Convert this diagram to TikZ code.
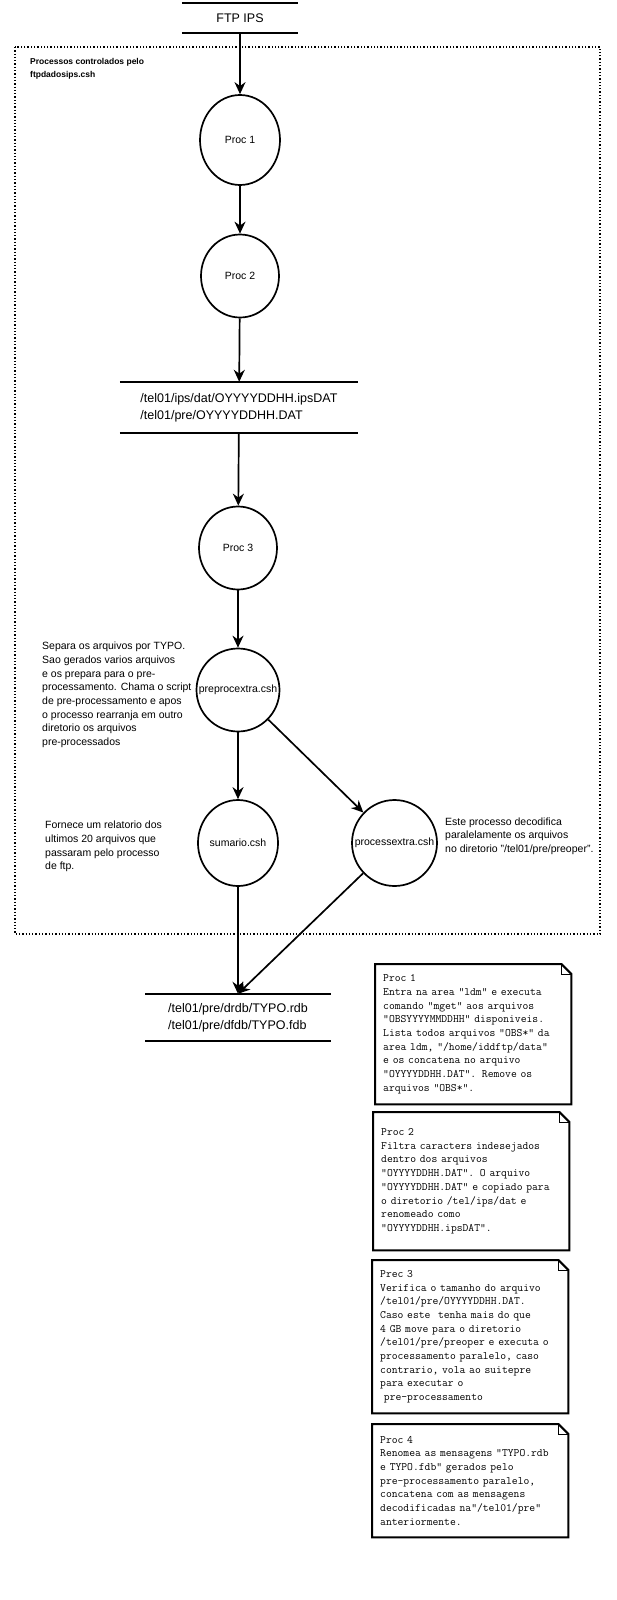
\documentclass[tikz,border=0pt]{standalone}
\usepackage{fontspec}
\setmainfont{Liberation Sans}
\usetikzlibrary{arrows.meta,shapes.geometric}

\begin{document}
\begin{tikzpicture}[x=1pt,y=-1pt,
    proc_style/.style={ellipse,draw=black,line width=1.7pt,minimum width=80pt,minimum height=86pt,inner sep=0pt,font=\fontsize{10.5}{12}\selectfont},
    store_style/.style={inner sep=0pt,align=left,font=\fontsize{12.5}{17}\selectfont},
    store_line/.style={draw=black,line width=1.7pt},
    text_style/.style={anchor=west,inner sep=0pt,align=left,font=\fontsize{10.5}{13.7}\selectfont},
    note_style/.style={anchor=north west,inner sep=0pt,inner xsep=8pt,text width=180pt,align=left,font=\ttfamily\fontsize{11.3}{13.7}\selectfont},
    note_border/.style={draw=black,line width=2pt,line join=miter},
    edge_style/.style={draw=black,line width=1.7pt,-{Stealth[length=12pt,width=11pt]}}]
    \useasboundingbox (0,0) rectangle (616,1600);

    % source
    \node[store_style,minimum width=116pt,minimum height=30pt] (ftp) at (240,18) {FTP IPS};
    \draw[store_line] (ftp.north west) -- (ftp.north east);
    \draw[store_line] (ftp.south west) -- (ftp.south east);

    % frame of ftpdadosips.csh
    \draw[dotted,line width=1.3pt] (15,47) rectangle (600,934);
    \node[anchor=west,inner sep=0pt,align=left,font=\bfseries\fontsize{8.5}{13}\selectfont] (frame_label) at (30,68.5) {Processos controlados pelo\\ftpdadosips.csh};

    \node[proc_style,minimum height=90pt] (proc1) at (240,140) {Proc 1};
    \node[proc_style,minimum width=78pt,minimum height=83pt] (proc2) at (240,276) {Proc 2};
    \node[store_style,minimum width=238pt,minimum height=51pt] (dat_store) at (239,407.5) {/tel01/ips/dat/OYYYYDDHH.ipsDAT\\/tel01/pre/OYYYYDDHH.DAT};
    \draw[store_line] (dat_store.north west) -- (dat_store.north east);
    \draw[store_line] (dat_store.south west) -- (dat_store.south east);
    \node[proc_style,minimum width=78pt,minimum height=83pt] (proc3) at (238,548) {Proc 3};
    \node[proc_style,minimum width=83pt,minimum height=83pt] (preproc) at (238,690) {\makebox[0pt]{preprocextra.csh}};
    \node[proc_style,minimum width=79pt] (sumario) at (238,843) {sumario.csh};
    \node[proc_style,minimum width=85pt] (procextra) at (394.5,843) {\makebox[0pt]{processextra.csh}};

    \node[text_style] (preproc_text) at (42,695) {Separa os arquivos por TYPO.\\Sao gerados varios arquivos\\e os prepara para o pre-\\processamento. Chama o script\\de pre-processamento e apos\\o processo rearranja em outro\\diretorio os arquivos\\pre-processados};
    \node[text_style] (sumario_text) at (45,846.5) {Fornece um relatorio dos\\ultimos 20 arquivos que\\passaram pelo processo\\de ftp.};
    \node[text_style] (procextra_text) at (445,836) {Este processo decodifica\\paralelamente os arquivos\\no diretorio "/tel01/pre/preoper".};

    % result
    \node[store_style,minimum width=185pt,minimum height=47pt] (out_store) at (238,1017.5) {/tel01/pre/drdb/TYPO.rdb\\/tel01/pre/dfdb/TYPO.fdb};
    \draw[store_line] (out_store.north west) -- (out_store.north east);
    \draw[store_line] (out_store.south west) -- (out_store.south east);

    \draw[edge_style] (ftp) -- (proc1);
    \draw[edge_style] (proc1) -- (proc2);
    \draw[edge_style] (proc2) -- (dat_store);
    \draw[edge_style] (dat_store) -- (proc3);
    \draw[edge_style] (proc3) -- (preproc);
    \draw[edge_style] (preproc) -- (sumario);
    \draw[edge_style] (preproc) -- (procextra);
    \draw[edge_style] (sumario) -- (out_store);
    \draw[edge_style] (procextra) -- (out_store.north);

    % notes
    \node[note_style,minimum height=140pt] (note1) at (375,964) {Proc 1\\Entra na area "ldm" e executa\\comando "mget" aos arquivos\\"OBSYYYYMMDDHH" disponiveis.\\Lista todos arquivos "OBS*" da\\area ldm, "/home/iddftp/data"\\e os concatena no arquivo\\"OYYYYDDHH.DAT". Remove os\\arquivos "OBS*".};
    \node[note_style,minimum height=138pt] (note2) at (373,1112) {Proc 2\\Filtra caracters indesejados\\dentro dos arquivos\\"OYYYYDDHH.DAT". O arquivo\\"OYYYYDDHH.DAT" e copiado para\\o diretorio /tel/ips/dat e\\renomeado como\\"OYYYYDDHH.ipsDAT".};
    \node[note_style,minimum height=153pt] (note3) at (372,1260) {Prec 3\\Verifica o tamanho do arquivo\\/tel01/pre/OYYYYDDHH.DAT.\\Caso este\ \ tenha mais do que\\4 GB move para o diretorio\\/tel01/pre/preoper e executa o\\processamento paralelo, caso\\contrario, vola ao suitepre\\para executar o\\\ pre-processamento};
    \node[note_style,minimum height=113pt] (note4) at (372,1424) {Proc 4\\Renomea as mensagens "TYPO.rdb\\e TYPO.fdb" gerados pelo\\pre-processamento paralelo,\\concatena com as mensagens\\decodificadas na"/tel01/pre"\\anteriormente.};
    \foreach \n in {note1,note2,note3,note4}{
      \draw[note_border] (\n.north west) -- ([xshift=-10pt]\n.north east) -- ([yshift=-10pt]\n.north east) -- (\n.south east) -- (\n.south west) -- cycle;
      \draw[line width=1pt] ([xshift=-10pt]\n.north east) |- ([yshift=-10pt]\n.north east);
    }
\end{tikzpicture}
\end{document}
